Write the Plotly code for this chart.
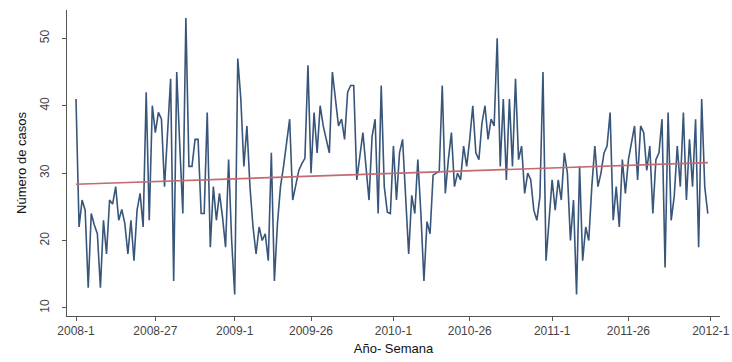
import numpy as np
import plotly.graph_objects as go

# Weekly case counts, 2008-1 .. 2011-52 (index 0..207)
casos = [
    41, 22, 26, 24.5, 13, 24, 22.3, 21, 13, 23,
    18, 26, 25.4, 28, 23, 24.6, 22.5, 18, 23, 17,
    24.5, 27, 22, 42, 23, 40, 36, 39, 38, 28,
    36, 44, 14, 45, 34, 24, 53, 31, 31, 35,
    35, 24, 24, 39, 19, 28, 23, 27, 23.5, 19,
    32, 20, 12, 47, 41, 31, 37, 28, 22, 18,
    22, 20, 21, 17, 33, 14, 22.5, 28, 31, 34.4,
    38, 26, 28.5, 30.4, 31.4, 32.2, 46, 30, 39, 33,
    40, 37, 35, 33, 45, 41, 37, 38, 35, 42,
    43, 43, 29, 32.5, 36, 31, 26, 35.4, 38, 24,
    43, 28, 24.2, 24, 34, 26, 33, 35, 26.5, 18,
    26.7, 24, 32, 24, 14, 22.8, 21, 29.7, 30, 30.2,
    43, 27, 32, 36, 28, 30, 29, 34, 31, 35,
    40, 33, 32, 37.4, 40, 35, 38, 37, 50, 31,
    41, 29, 41, 31, 44, 32, 34, 27, 30, 29,
    24.5, 23, 26.5, 45, 17, 23, 29, 24.5, 29, 26,
    33, 30, 20, 26, 12, 31, 17, 22, 20, 28,
    34, 28, 30, 33, 34, 39, 23, 28, 22, 32,
    27, 32, 34.4, 37, 29, 37, 36, 30.4, 34, 24,
    32, 33, 38, 16, 39, 23, 26.5, 34, 28, 39,
    26, 35, 28, 38, 19, 41, 28, 24,
]
semana_idx = list(range(len(casos)))

tick_pos = [0, 26, 52, 77, 104, 129, 156, 181, 208]
tick_txt = ["2008-1", "2008-27", "2009-1", "2009-26", "2010-1",
            "2010-26", "2011-1", "2011-26", "2012-1"]
y_ticks = [10, 20, 30, 40, 50]

# linear trend fitted to the series
coef = np.polyfit(semana_idx, casos, 1)
trend_x = [semana_idx[0], semana_idx[-1]]
trend_y = [float(np.polyval(coef, v)) for v in trend_x]

fig = go.Figure()
fig.add_trace(go.Scatter(x=semana_idx, y=casos, mode="lines",
                         line=dict(color="#38557a", width=1.6),
                         showlegend=False, hoverinfo="skip"))
fig.add_trace(go.Scatter(x=trend_x, y=trend_y, mode="lines",
                         line=dict(color="#c46a70", width=1.6),
                         showlegend=False, hoverinfo="skip"))

fnt = "Liberation Sans, Arial, sans-serif"
fig.update_layout(
    width=732, height=362,
    margin=dict(l=67, r=12, t=10, b=46),
    paper_bgcolor="white", plot_bgcolor="white",
    font=dict(family=fnt, size=12, color="#444"),
    xaxis=dict(range=[-2.95, 211], tickmode="array", tickvals=tick_pos,
               ticktext=tick_txt, showgrid=False, zeroline=False,
               automargin=False, ticklabeloverflow="allow",
               showline=True, linecolor="#555", linewidth=1,
               ticks="outside", ticklen=4, tickcolor="#555",
               tickfont=dict(size=12, color="#444"),
               title=dict(text="Año- Semana", font=dict(size=13, color="#111"),
                          standoff=6)),
    yaxis=dict(range=[8.8, 54.2], tickmode="array", tickvals=y_ticks,
               showgrid=False, zeroline=False, tickangle=-90,
               automargin=False, ticklabelstandoff=8,
               showline=True, linecolor="#555", linewidth=1,
               ticks="outside", ticklen=4, tickcolor="#555",
               tickfont=dict(size=12, color="#444"),
               title=dict(text="Número de casos", font=dict(size=13, color="#111"),
                          standoff=8)),
)

fig.write_html(
    "out.html",
    config={"displayModeBar": False, "staticPlot": True},
    post_script="document.body.style.margin='0';document.body.style.overflow='hidden';",
)
